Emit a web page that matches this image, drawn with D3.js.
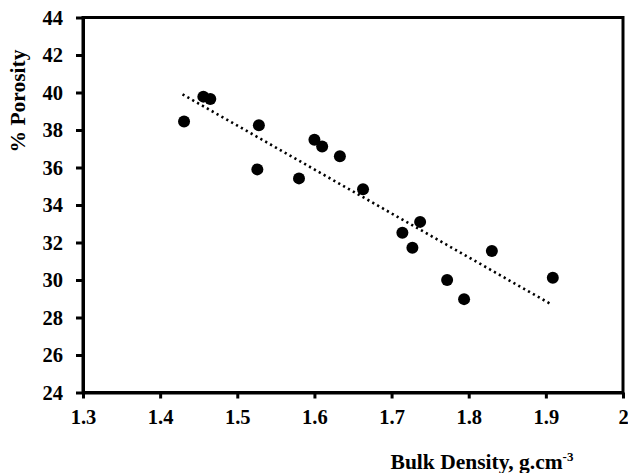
<!DOCTYPE html>
<html><head><meta charset="utf-8">
<script src="https://cdn.jsdelivr.net/npm/d3@7"></script>
<style>body{margin:0;background:#fff}svg{display:block}text{font-family:"Liberation Serif","Times New Roman",serif;font-weight:bold;fill:#000}</style>
</head><body><svg id="c" width="628" height="473"></svg>
<script>
const bulkDensity = [1.431,1.456,1.465,1.528,1.526,1.580,1.600,1.610,1.633,1.663,1.737,1.714,1.727,1.772,1.794,1.830,1.909];
const porosity    = [38.45,39.78,39.65,38.25,35.90,35.42,37.48,37.12,36.60,34.84,33.10,32.52,31.72,30.00,28.98,31.55,30.12];
const xTicks = [1.3,1.4,1.5,1.6,1.7,1.8,1.9,2];
const yTicks = [24,26,28,30,32,34,36,38,40,42,44];
const trendX = [1.429,1.905];
const trendY = [39.90,28.75];

const svg = d3.select("#c");
const L=83,R=623,T=17.5,B=392.5;
const x = d3.scaleLinear().domain([1.3,2]).range([L,R]);
const y = d3.scaleLinear().domain([24,44]).range([B,T]);

svg.append("rect").attr("x",L).attr("y",T).attr("width",R-L).attr("height",B-T)
  .attr("fill","none").attr("stroke","#000").attr("stroke-width",3);

const xa = svg.append("g").attr("transform",`translate(0,${B})`)
  .call(d3.axisBottom(x).tickValues(xTicks).tickFormat(d=>d===2?"2":d3.format(".1f")(d)).tickSize(6).tickSizeOuter(0).tickPadding(11));
const ya = svg.append("g").attr("transform",`translate(${L},0)`)
  .call(d3.axisLeft(y).tickValues(yTicks).tickFormat(d3.format("d")).tickSize(7).tickSizeOuter(0).tickPadding(13));
[xa,ya].forEach(g=>{
  g.select(".domain").attr("stroke","#000").attr("stroke-width",3);
  g.selectAll(".tick line").attr("stroke","#000").attr("stroke-width",3);
  g.selectAll(".tick text").style("font-family","'Liberation Serif','Times New Roman',serif").style("font-weight","bold").style("font-size","20.5px").attr("fill","#000");
});

svg.append("line")
  .attr("x1",x(trendX[0])).attr("y1",y(trendY[0]))
  .attr("x2",x(trendX[1])).attr("y2",y(trendY[1]))
  .attr("stroke","#000").attr("stroke-width",2.6).attr("stroke-dasharray","2.2,3.4");

svg.append("g").selectAll("circle").data(bulkDensity).join("circle")
  .attr("cx",d=>x(d)).attr("cy",(d,i)=>y(porosity[i])).attr("r",6).attr("fill","#000");

const xl = svg.append("text").attr("x",482).attr("y",469).attr("text-anchor","middle").style("font-size","21.5px");
xl.append("tspan").text("Bulk Density, g.cm");
xl.append("tspan").text("-3").attr("dy",-8).style("font-size","13px");
svg.append("text").attr("transform","translate(25,101) rotate(-90)").attr("text-anchor","middle").style("font-size","21.5px").text("% Porosity");
</script></body></html>
